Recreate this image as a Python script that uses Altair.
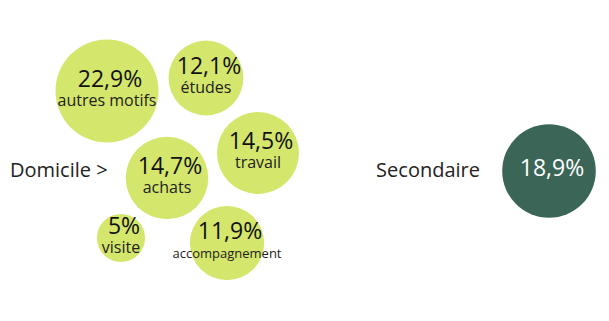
import altair as alt
import pandas as pd

# Data
motifs = ["autres motifs", "études", "travail", "achats", "visite", "accompagnement", "Secondaire"]
values = [22.9, 12.1, 14.5, 14.7, 5.0, 11.9, 18.9]
groups = ["Domicile", "Domicile", "Domicile", "Domicile", "Domicile", "Domicile", "Secondaire"]
# bubble layout coordinates (hand-packed layout)
layout_x = [107, 206, 258, 167, 121, 227, 549]
layout_y = [91, 78, 153, 178, 238, 243, 171]

side_labels = ["Domicile >", "Secondaire"]
side_x = [10, 480]
side_y = [171, 171]
side_align = ["left", "right"]

df = pd.DataFrame({"motif": motifs, "value": values, "group": groups,
                   "lx": layout_x, "ly": layout_y})
side_df = pd.DataFrame({"label": side_labels, "lx": side_x, "ly": side_y, "align": side_align})

W, H = 609, 321
xs = alt.Scale(domain=[0, W], range=[0, W])
ys = alt.Scale(domain=[0, H], range=[0, H])
FONT = "Open Sans"

base = alt.Chart(df).encode(
    x=alt.X("lx:Q", scale=xs, axis=None),
    y=alt.Y("ly:Q", scale=ys, axis=None),
)

circles = base.mark_circle(opacity=1).encode(
    size=alt.Size("value:Q", scale=alt.Scale(domain=[0, 22.9], range=[0, 10609]), legend=None),
    color=alt.Color("group:N", scale=alt.Scale(domain=["Domicile", "Secondaire"],
                                               range=["#d4e66b", "#3b6557"]), legend=None),
)

fmt = "(datum.value % 1 === 0 ? format(datum.value, 'd') : replace(format(datum.value, '.1f'), '.', ',')) + '%'"

val_dom = base.transform_filter("datum.group === 'Domicile'").transform_calculate(
    txt=fmt
).mark_text(font=FONT, fontSize=23, baseline="alphabetic", dy=-4, dx=3, color="#111111").encode(
    text="txt:N"
)

lab_dom = base.transform_filter("datum.group === 'Domicile'").mark_text(
    font=FONT, baseline="alphabetic", dy=15, color="#222222"
).encode(
    text="motif:N",
    size=alt.condition("datum.motif === 'accompagnement'", alt.value(13), alt.value(16)),
)

val_sec = base.transform_filter("datum.group === 'Secondaire'").transform_calculate(
    txt=fmt
).mark_text(font=FONT, fontSize=23, baseline="middle", dy=-2, dx=3, color="#ffffff").encode(
    text="txt:N"
)

side_base = alt.Chart(side_df).encode(
    x=alt.X("lx:Q", scale=xs, axis=None),
    y=alt.Y("ly:Q", scale=ys, axis=None),
    text="label:N",
)
side_left = side_base.transform_filter("datum.align === 'left'").mark_text(
    font=FONT, fontSize=20, baseline="middle", align="left", color="#222222")
side_right = side_base.transform_filter("datum.align === 'right'").mark_text(
    font=FONT, fontSize=20, baseline="middle", align="right", color="#222222")

chart = alt.layer(circles, val_dom, lab_dom, val_sec, side_left, side_right).properties(
    width=W, height=H, autosize=alt.AutoSizeParams(type="none"), padding=0,
    background="#ffffff"
).configure_view(stroke=None)

chart.save("out.html", embed_options={"renderer": "svg", "actions": False})
